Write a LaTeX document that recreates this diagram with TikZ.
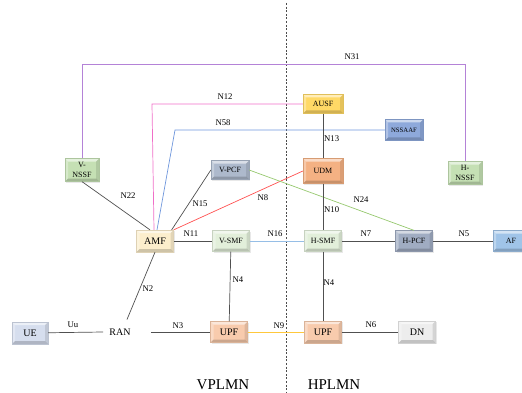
\documentclass[tikz,border=0pt]{standalone}
\usepackage{fontspec}
\setmainfont{Liberation Serif}
\usepackage{xcolor}
\definecolor{cnssf}{RGB}{197,224,180}
\definecolor{cpcf}{RGB}{173,185,204}
\definecolor{chpcf}{RGB}{160,172,194}
\definecolor{causf}{RGB}{255,217,102}
\definecolor{cnssaaf}{RGB}{142,169,219}
\definecolor{cudm}{RGB}{244,177,131}
\definecolor{camf}{RGB}{252,238,204}
\definecolor{csmf}{RGB}{226,239,218}
\definecolor{cue}{RGB}{214,222,238}
\definecolor{cupf}{RGB}{248,203,173}
\definecolor{cdn}{RGB}{237,237,237}
\definecolor{caf}{RGB}{160,196,232}
\definecolor{lpurple}{RGB}{180,130,215}
\definecolor{lpink}{RGB}{240,110,200}
\definecolor{lblue}{RGB}{110,150,220}
\definecolor{lred}{RGB}{255,80,80}
\definecolor{lgreen}{RGB}{150,200,110}
\definecolor{lsky}{RGB}{150,190,230}
\definecolor{lyellow}{RGB}{255,200,60}
\definecolor{lgray}{RGB}{80,80,80}
\usepackage{tikz}
\usetikzlibrary{calc,shadows}
\newcommand\fbig{\fontsize{10}{11}\selectfont}
\newcommand\fsmall{\fontsize{8}{10}\selectfont}
\newcommand\ftiny{\fontsize{6.7}{8}\selectfont}
\newcommand\flbl{\fontsize{8.7}{10}\selectfont}
\newcommand\fzone{\fontsize{15}{17}\selectfont}
\tikzset{
  bevel/.style={path picture={
    \coordinate (bl) at (path picture bounding box.south west);
    \coordinate (tr) at (path picture bounding box.north east);
    \coordinate (tl) at (bl|-tr);
    \coordinate (br) at (tr|-bl);
    \fill[white,opacity=.55] (tl) -- (tr) -- ($(tr)+(-3pt,-3pt)$) -- ($(tl)+(3pt,-3pt)$) -- cycle;
    \fill[white,opacity=.3] (tl) -- (bl) -- ($(bl)+(3pt,3pt)$) -- ($(tl)+(3pt,-3pt)$) -- cycle;
    \fill[black,opacity=.18] (bl) -- (br) -- ($(br)+(-3pt,3pt)$) -- ($(bl)+(3pt,3pt)$) -- cycle;
    \fill[black,opacity=.1] (br) -- (tr) -- ($(tr)+(-3pt,-3pt)$) -- ($(br)+(-3pt,3pt)$) -- cycle;
  }},
  nf/.style={draw=#1!88!black,fill=#1,line width=0.3pt,inner sep=1pt,
    minimum width=37pt,minimum height=21pt,align=center,font=\fsmall,bevel,
    drop shadow={shadow xshift=1pt,shadow yshift=-1pt,opacity=.18}},
  link/.style={draw=lgray,line width=0.7pt},
  lbl/.style={font=\flbl,inner sep=1pt},
  zone/.style={font=\fzone,inner sep=0pt},
}
\begin{document}
\begin{tikzpicture}[x=1pt,y=-1pt]
\useasboundingbox (0,0) rectangle (522,393);
% network functions
\node[nf=cnssf,minimum width=34pt,minimum height=23pt,font=\fontsize{8}{10.5}\selectfont] (vnssf) at (82,170) {V-\\NSSF};
\node[nf=cpcf,minimum width=38pt,minimum height=19pt] (vpcf) at (230,170) {V-PCF};
\node[nf=causf,minimum width=40pt,minimum height=19pt] (ausf) at (323,104) {AUSF};
\node[nf=cnssaaf,minimum width=38pt,font=\ftiny] (nssaaf) at (404,130) {NSSAAF};
\node[nf=cudm,minimum width=40pt,minimum height=25pt] (udm) at (323,171) {UDM};
\node[nf=cnssf,minimum width=34pt,minimum height=23pt,font=\fontsize{8}{10.5}\selectfont] (hnssf) at (465,173) {H-\\NSSF};
\node[nf=camf,minimum height=22pt,font=\fbig] (amf) at (155,241) {AMF};
\node[nf=csmf] (vsmf) at (231,241) {V-SMF};
\node[nf=csmf] (hsmf) at (323,241) {H-SMF};
\node[nf=chpcf] (hpcf) at (414,241) {H-PCF};
\node[nf=caf,minimum width=36pt] (af) at (511,241) {AF};
\node[nf=cue,minimum width=36pt,minimum height=22pt,font=\fbig] (ue) at (30,333) {UE};
\node[font=\fbig,inner xsep=6pt,inner ysep=9pt] (ran) at (120,332) {RAN};
\node[nf=cupf,font=\fbig] (vupf) at (229,332) {UPF};
\node[nf=cupf,minimum height=22pt,font=\fbig] (hupf) at (323,332) {UPF};
\node[nf=cdn,minimum height=22pt,font=\fbig] (dn) at (417,332) {DN};
% corners and border
\coordinate (t31a) at (82,64);
\coordinate (t31b) at (465,64);
\coordinate (t12) at (152,104);
\coordinate (t58) at (175,130);
\coordinate (dtop) at (286,3);
\coordinate (dbot) at (286,393);
\draw[gray!60!black,line width=0.6pt,dash pattern=on 2pt off 1.6pt] (dtop) -- (dbot);
% connectors
\draw[lpurple,line width=0.8pt] (vnssf.north) -- (t31a) -- (t31b) -- (hnssf.north);
\node[lbl] (l31) at (352,57) {N31};
\draw[lpink,line width=0.7pt] ([xshift=-1pt]amf.north) -- (t12) -- (ausf.west);
\node[lbl] (l12) at (225,97) {N12};
\draw[lblue,line width=0.7pt] ([xshift=2pt]amf.north) -- (t58) -- (nssaaf.west);
\node[lbl] (l58) at (223,123) {N58};
\draw[link] (vnssf.south) -- ([xshift=-5pt]amf.north);
\node[lbl] (l22) at (128,196) {N22};
\draw[link] ([xshift=-2pt]amf.north east) -- (vpcf.west);
\node[lbl] (l15) at (200,204) {N15};
\draw[lred,line width=0.7pt] (amf.north east) -- (udm.west);
\node[lbl] (l8) at (263,198) {N8};
\draw[lgreen,line width=0.7pt] (vpcf.east) -- (hpcf.north);
\node[lbl] (l24) at (361,200) {N24};
\draw[link] (ausf) -- (udm);
\node[lbl,anchor=west] (l13) at (323,139) {N13};
\draw[link] (udm) -- (hsmf);
\node[lbl,anchor=west] (l10) at (323,210) {N10};
\draw[link] (amf) -- (vsmf);
\node[lbl] (l11) at (191,234) {N11};
\draw[lsky,line width=0.8pt] (vsmf) -- (hsmf);
\node[lbl] (l16) at (275,234) {N16};
\draw[link] (hsmf) -- (hpcf);
\node[lbl] (l7) at (366,234) {N7};
\draw[link] (hpcf) -- (af);
\node[lbl] (l5) at (464,234) {N5};
\draw[link] (vsmf) -- (vupf);
\node[lbl] (l4v) at (238,280) {N4};
\draw[link] (hsmf) -- (hupf);
\node[lbl] (l4h) at (329,283) {N4};
\draw[link] (amf.south) -- ([xshift=7pt]ran.north);
\node[lbl] (l2) at (148,289) {N2};
\draw[link] (ue) -- (ran.west);
\node[lbl] (lu) at (73,325) {Uu};
\draw[link] ([xshift=14pt]ran.east) -- (vupf);
\node[lbl] (l3) at (178,326) {N3};
\draw[lyellow,line width=0.8pt] (vupf) -- (hupf);
\node[lbl] (l9) at (279,326) {N9};
\draw[link] (hupf) -- (dn);
\node[lbl] (l6) at (371,325) {N6};
% zones
\node[zone] (vplmn) at (223,385) {VPLMN};
\node[zone] (hplmn) at (334,385) {HPLMN};
\end{tikzpicture}
\end{document}
